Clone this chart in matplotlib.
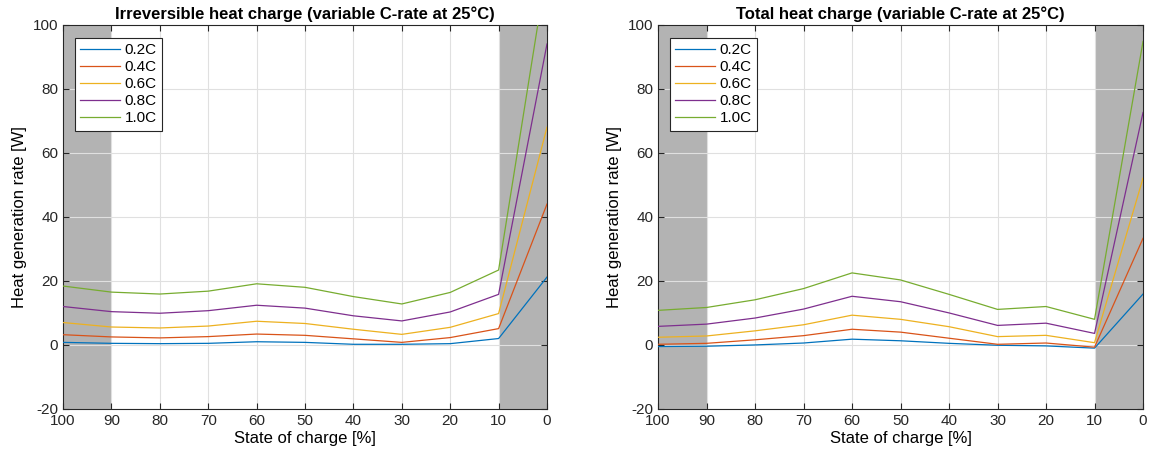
import numpy as np
import matplotlib
matplotlib.use('Agg')
import matplotlib.pyplot as plt

plt.rcParams['font.family'] = ['Liberation Sans', 'DejaVu Sans']
plt.rcParams['axes.unicode_minus'] = False

soc = [100, 90, 80, 70, 60, 50, 40, 30, 20, 10, 0]
labels = ['0.2C', '0.4C', '0.6C', '0.8C', '1.0C']
colors = ['#0072BD', '#D95319', '#EDB120', '#7E2F8E', '#77AC30']

# irreversible heat (left)
irr_02 = [0.8, 0.5, 0.4, 0.5, 1.0, 0.8, 0.2, 0.2, 0.4, 2.0, 21.2]
irr_04 = [3.2, 2.5, 2.2, 2.6, 3.4, 3.0, 1.9, 0.8, 2.3, 5.1, 44.0]
irr_06 = [7.0, 5.6, 5.3, 5.9, 7.4, 6.7, 4.9, 3.3, 5.5, 9.8, 68.0]
irr_08 = [12.0, 10.4, 9.9, 10.7, 12.4, 11.5, 9.1, 7.5, 10.3, 15.8, 94.0]
irr_10 = [18.4, 16.5, 15.9, 16.8, 19.1, 18.0, 15.1, 12.8, 16.4, 23.4, 118.0]

# total heat (right)
tot_02 = [-0.5, -0.4, 0.0, 0.6, 1.8, 1.3, 0.5, -0.1, -0.3, -1.0, 15.9]
tot_04 = [0.2, 0.5, 1.6, 2.9, 4.9, 4.0, 2.1, 0.2, 0.6, -0.7, 33.3]
tot_06 = [2.4, 2.8, 4.4, 6.3, 9.3, 8.0, 5.7, 2.6, 3.0, 0.7, 52.1]
tot_08 = [5.8, 6.5, 8.4, 11.2, 15.2, 13.5, 10.0, 6.1, 6.8, 3.6, 72.6]
tot_10 = [10.8, 11.7, 14.1, 17.6, 22.5, 20.3, 15.8, 11.1, 12.0, 8.0, 94.8]

panels = [
    ('Irreversible heat charge (variable C-rate at 25°C)', [irr_02, irr_04, irr_06, irr_08, irr_10]),
    ('Total heat charge (variable C-rate at 25°C)', [tot_02, tot_04, tot_06, tot_08, tot_10]),
]

fig = plt.figure(figsize=(11.54, 4.59), dpi=100)
positions = [[0.0546, 0.109, 0.4194, 0.837], [0.5702, 0.109, 0.4203, 0.837]]

for pos, (title, series) in zip(positions, panels):
    ax = fig.add_axes(pos)
    ax.axvspan(100, 90, color='#b3b3b3', lw=0, zorder=1)
    ax.axvspan(10, 0, color='#b3b3b3', lw=0, zorder=1)
    for vals, lab, c in zip(series, labels, colors):
        ax.plot(soc, vals, color=c, lw=0.9, label=lab, zorder=3)
    ax.set_xlim(100, 0)
    ax.set_ylim(-20, 100)
    ax.set_xticks(soc)
    ax.set_yticks(np.arange(-20, 101, 20))
    ax.set_axisbelow('line')
    ax.grid(True, color='#e0e0e0', lw=0.8)
    ax.tick_params(direction='in', length=4, labelsize=11, top=True, right=True,
                   colors='#262626', width=0.8)
    for s in ax.spines.values():
        s.set_color('#262626')
        s.set_linewidth(0.8)
    ax.set_title(title, fontsize=12, fontweight='bold', pad=4)
    ax.set_xlabel('State of charge [%]', fontsize=12, labelpad=2)
    ax.set_ylabel('Heat generation rate [W]', fontsize=12, labelpad=4)
    leg = ax.legend(loc='upper left', bbox_to_anchor=(0.025, 0.966), borderaxespad=0,
                    fontsize=11, fancybox=False, framealpha=1, edgecolor='#262626',
                    handlelength=2.6, handletextpad=0.3, borderpad=0.35,
                    labelspacing=0.2)
    leg.get_frame().set_linewidth(0.8)

fig.savefig('out.png', dpi=100)
